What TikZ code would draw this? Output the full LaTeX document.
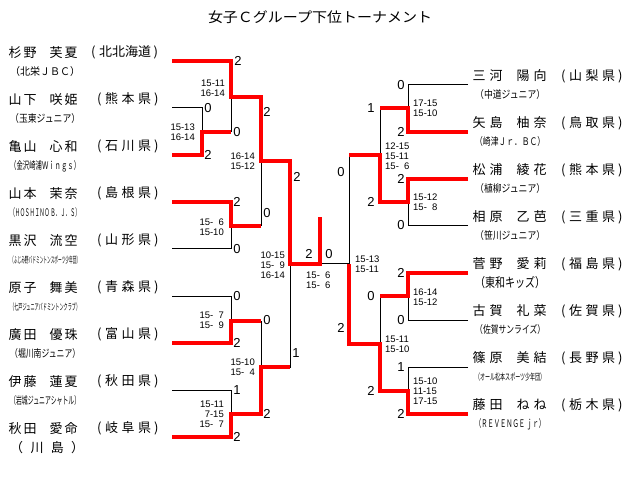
\documentclass[tikz,border=0pt]{standalone}
\usepackage{fontspec}
\usepackage{graphicx}
\setmainfont{Liberation Sans}
\newfontfamily\jp{Noto Sans CJK JP}
\newcommand\pnL[4]{#1\hspace{2pt}#2\hspace{13pt}#3\hspace{2pt}#4}
\newcommand\pnR[4]{#1\hspace{4pt}#2\hspace{14pt}#3\hspace{4pt}#4}
\newcommand\pfc[3]{(\hspace{3.5pt}#1\hspace{3.5pt}#2\hspace{3.5pt}#3\hspace{3pt})}
\newcommand\clb[1]{\resizebox{70pt}{\height}{#1}}
\newcommand\zz{\phantom{0}}
\tikzset{
  nm/.style={anchor=west, inner sep=0pt, font=\jp\fontsize{13}{13}\selectfont},
  cl/.style={anchor=west, inner sep=0pt, font=\jp\fontsize{10.5}{11}\selectfont},
  cls/.style={anchor=west, inner sep=0pt, font=\jp\fontsize{9}{10}\selectfont},
  dg/.style={inner sep=0pt, font=\fontsize{13}{13}\selectfont},
  scl/.style={anchor=east, align=right, inner sep=0pt, font=\fontsize{9.5}{10}\selectfont},
  scr/.style={anchor=west, align=left, inner sep=0pt, font=\fontsize{9.5}{10}\selectfont},
  bk/.style={line width=1pt, black},
  rd/.style={line width=3.2pt, red, line join=miter}
}
\begin{document}
\begin{tikzpicture}[x=1pt,y=-1pt]
\fill[white] (0,0) rectangle (640,489);
\useasboundingbox (0,0) rectangle (640,489);
% title
\node[inner sep=0pt, font=\jp\fontsize{14}{14}\selectfont] (title) at (320,17) {\resizebox{224pt}{\height}{女子Ｃグループ下位トーナメント}};
% left players
\node[nm] (nL1) at (8.5,52.5) {\pnL{杉}{野}{芙}{夏}};
\node[nm] (pL1) at (91,52.5) {(\hspace{3.5pt}北北海道\hspace{2.5pt})};
\node[cl] (cL1) at (10,72) {\clb{（北栄ＪＢＣ）}};
\node[nm] (nL2) at (8.5,99.5) {\pnL{山}{下}{咲}{姫}};
\node[nm] (pL2) at (97,99.5) {\pfc{熊}{本}{県}};
\node[cl] (cL2) at (10,119) {\clb{（玉東ジュニア）}};
\node[nm] (nL3) at (8.5,146.5) {\pnL{亀}{山}{心}{和}};
\node[nm] (pL3) at (97,146.5) {\pfc{石}{川}{県}};
\node[cl] (cL3) at (10,166) {\clb{（金沢崎浦Ｗｉｎｇｓ）}};
\node[nm] (nL4) at (8.5,193.5) {\pnL{山}{本}{茉}{奈}};
\node[nm] (pL4) at (97,193.5) {\pfc{島}{根}{県}};
\node[cl] (cL4) at (10,213) {\clb{（ＨＯＳＨＩＮＯ Ｂ．Ｊ．Ｓ）}};
\node[nm] (nL5) at (8.5,240.5) {\pnL{黒}{沢}{流}{空}};
\node[nm] (pL5) at (97,240.5) {\pfc{山}{形}{県}};
\node[cls] (cL5) at (10,260) {\clb{（ふじみ野バドミントンスポーツ少年団）}};
\node[nm] (nL6) at (8.5,287.5) {\pnL{原}{子}{舞}{美}};
\node[nm] (pL6) at (97,287.5) {\pfc{青}{森}{県}};
\node[cls] (cL6) at (10,307) {\clb{（七戸ジュニアバドミントンクラブ）}};
\node[nm] (nL7) at (8.5,334.5) {\pnL{廣}{田}{優}{珠}};
\node[nm] (pL7) at (97,334.5) {\pfc{富}{山}{県}};
\node[cl] (cL7) at (10,354) {\clb{（堀川南ジュニア）}};
\node[nm] (nL8) at (8.5,381.5) {\pnL{伊}{藤}{蓮}{夏}};
\node[nm] (pL8) at (97,381.5) {\pfc{秋}{田}{県}};
\node[cl] (cL8) at (10,401) {\clb{（岩城ジュニアシャトル）}};
\node[nm] (nL9) at (8.5,428.5) {\pnL{秋}{田}{愛}{命}};
\node[nm] (pL9) at (97,428.5) {\pfc{岐}{阜}{県}};
\node[nm] (cL9) at (10,447.5) {\makebox[74pt][s]{（\hfill{}川\hfill{}島\hfill{}）}};
% right players
\node[nm] (nR1) at (472.5,76) {\pnR{三}{河}{陽}{向}};
\node[nm] (pR1) at (561,76) {\pfc{山}{梨}{県}};
\node[cl] (cR1) at (475,95) {\clb{（中道ジュニア）}};
\node[nm] (nR2) at (472.5,123) {\pnR{矢}{島}{柚}{奈}};
\node[nm] (pR2) at (561,123) {\pfc{鳥}{取}{県}};
\node[cl] (cR2) at (475,142) {\clb{（崎津Ｊｒ．ＢＣ）}};
\node[nm] (nR3) at (472.5,170) {\pnR{松}{浦}{綾}{花}};
\node[nm] (pR3) at (561,170) {\pfc{熊}{本}{県}};
\node[cl] (cR3) at (475,189) {\clb{（植柳ジュニア）}};
\node[nm] (nR4) at (472.5,217) {\pnR{相}{原}{乙}{芭}};
\node[nm] (pR4) at (561,217) {\pfc{三}{重}{県}};
\node[cl] (cR4) at (475,236) {\clb{（笹川ジュニア）}};
\node[nm] (nR5) at (472.5,264) {\pnR{菅}{野}{愛}{莉}};
\node[nm] (pR5) at (561,264) {\pfc{福}{島}{県}};
\node[nm] (cR5) at (475,283) {\resizebox{70pt}{\height}{（東和キッズ）}};
\node[nm] (nR6) at (472.5,311) {\pnR{古}{賀}{礼}{菜}};
\node[nm] (pR6) at (561,311) {\pfc{佐}{賀}{県}};
\node[cl] (cR6) at (475,330) {\clb{（佐賀サンライズ）}};
\node[nm] (nR7) at (472.5,358) {\pnR{篠}{原}{美}{結}};
\node[nm] (pR7) at (561,358) {\pfc{長}{野}{県}};
\node[cls] (cR7) at (475,377) {\clb{（オール松本スポーツ少年団）}};
\node[nm] (nR8) at (472.5,405) {\pnR{藤}{田}{ね}{ね}};
\node[nm] (pR8) at (561,405) {\pfc{栃}{木}{県}};
\node[cl] (cR8) at (475,424) {\clb{（ＲＥＶＥＮＧＥ ｊｒ）}};
% bracket coordinates left
\coordinate (s1) at (172,61);  \coordinate (s2) at (172,108);
\coordinate (s3) at (172,155); \coordinate (s4) at (172,202);
\coordinate (s5) at (172,249); \coordinate (s6) at (172,296);
\coordinate (s7) at (172,343); \coordinate (s8) at (172,390);
\coordinate (s9) at (172,437);
\coordinate (mA) at (202,132); \coordinate (mB) at (231,97);
\coordinate (mC) at (231,226); \coordinate (mD) at (261,161);
\coordinate (mE) at (231,321); \coordinate (mF) at (231,414);
\coordinate (mG) at (261,367); \coordinate (mH) at (290,264);
\coordinate (fin) at (320,264); \coordinate (top) at (320,217);
% right
\coordinate (t1) at (468,85);  \coordinate (t2) at (468,132);
\coordinate (t3) at (468,179); \coordinate (t4) at (468,226);
\coordinate (t5) at (468,273); \coordinate (t6) at (468,320);
\coordinate (t7) at (468,367); \coordinate (t8) at (468,414);
\coordinate (nA) at (408,108); \coordinate (nB) at (408,202);
\coordinate (nC) at (380,155); \coordinate (nD) at (408,296);
\coordinate (nE) at (408,391); \coordinate (nF) at (380,344);
\coordinate (nG) at (349,264);
% black tree
\draw[bk] (s1) -| (mB) (s2) -| (mA) (s3) -| (mA) (mA) -| (mB)
  (s4) -| (mC) (s5) -| (mC) (mB) -| (mD) (mC) -| (mD)
  (s6) -| (mE) (s7) -| (mE) (s8) -| (mF) (s9) -| (mF)
  (mE) -| (mG) (mF) -| (mG) (mD) -| (mH) (mG) -| (mH) (mH) -- (fin);
\draw[bk] (t1) -| (nA) (t2) -| (nA) (t3) -| (nB) (t4) -| (nB)
  (nA) -| (nC) (nB) -| (nC) (t5) -| (nD) (t6) -| (nD)
  (t7) -| (nE) (t8) -| (nE) (nD) -| (nF) (nE) -| (nF)
  (nC) -| (nG) (nF) -| (nG) (nG) -- (fin);
% red winners
\draw[rd] (s1) -| (mB) -| (mD) -| (mH) -- (fin) -- (top);
\draw[rd] (s3) -| (mA) -- (mA -| mB);
\draw[rd] (s4) -| (mC) -- (mC -| mD);
\draw[rd] (s7) -| (mE) -- (mE -| mG);
\draw[rd] (s9) -| (mF) -| (mG) -- (mG -| mH);
\draw[rd] (t2) -| (nA) -- (nA -| nC);
\draw[rd] (t3) -| (nB) -| (nC) -- (nC -| nG);
\draw[rd] (t5) -| (nD) -- (nD -| nF);
\draw[rd] (t8) -| (nE) -| (nF) -| (nG);
% game counts left
\node[dg] (g1) at (238,61) {2};
\node[dg] (g2) at (208,108) {0};
\node[dg] (g3) at (208,155) {2};
\node[dg] (g4) at (237,132) {0};
\node[dg] (g5) at (237,202) {2};
\node[dg] (g6) at (237,249) {0};
\node[dg] (g7) at (267,112) {2};
\node[dg] (g8) at (267,213) {0};
\node[dg] (g9) at (237,296) {0};
\node[dg] (g10) at (237,343) {2};
\node[dg] (g11) at (237,390) {1};
\node[dg] (g12) at (237,437) {2};
\node[dg] (g13) at (267,320) {0};
\node[dg] (g14) at (267,414) {2};
\node[dg] (g15) at (297,177) {2};
\node[dg] (g16) at (296,353) {1};
\node[dg] (g17) at (309,254) {2};
\node[dg] (g18) at (329,254) {0};
% game counts right
\node[dg] (h1) at (401,85) {0};
\node[dg] (h2) at (401,132) {2};
\node[dg] (h3) at (401,179) {2};
\node[dg] (h4) at (401,225) {0};
\node[dg] (h5) at (371,108) {1};
\node[dg] (h6) at (371,202) {2};
\node[dg] (h7) at (401,273) {2};
\node[dg] (h8) at (401,320) {0};
\node[dg] (h9) at (401,367) {1};
\node[dg] (h10) at (401,414) {2};
\node[dg] (h11) at (371,296) {0};
\node[dg] (h12) at (371,391) {2};
\node[dg] (h13) at (341,172) {0};
\node[dg] (h14) at (341,328) {2};
% scores left
\node[scl] (k1) at (225,88) {15-11\\16-14};
\node[scl] (k2) at (195,132.5) {15-13\\16-14};
\node[scl] (k3) at (255,161.5) {16-14\\15-12};
\node[scl] (k4) at (224,227) {15-\zz6\\15-10};
\node[scl] (k5) at (285,265) {10-15\\15-\zz9\\16-14};
\node[scl] (k6) at (224,320) {15-\zz7\\15-\zz9};
\node[scl] (k7) at (255,367) {15-10\\15-\zz4};
\node[scl] (k8) at (224,414) {15-11\\7-15\\15-\zz7};
\node[scr] (k9) at (306,280) {15-\zz6\\15-\zz6};
% scores right
\node[scr] (q1) at (413,108) {17-15\\15-10};
\node[scr] (q2) at (413,202.5) {15-12\\15-\zz8};
\node[scr] (q3) at (385,156) {12-15\\15-11\\15-\zz6};
\node[scr] (q4) at (355,264) {15-13\\15-11};
\node[scr] (q5) at (413,297) {16-14\\15-12};
\node[scr] (q6) at (385,344) {15-11\\15-10};
\node[scr] (q7) at (413,391) {15-10\\11-15\\17-15};
\end{tikzpicture}
\end{document}
